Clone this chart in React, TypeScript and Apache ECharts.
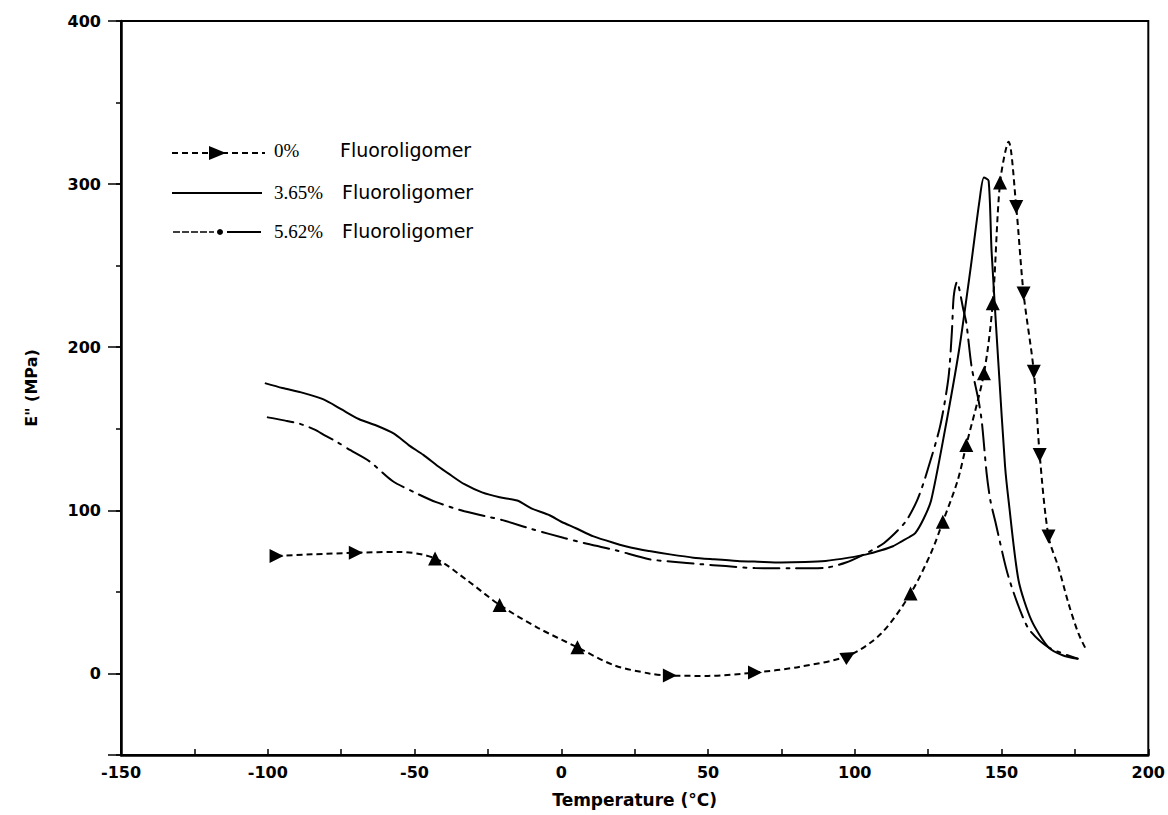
import React, { useEffect, useRef } from "react";
import * as echarts from "echarts";

// 0% Fluoroligomer (dashed curve)
const t0 = [-97, -85, -70, -55, -43, -32, -21, -8, 5.5, 18, 30, 37, 50, 66, 81, 98, 109, 119, 126, 130, 135, 138, 144, 147, 149.5, 152.4, 155, 157.5, 161, 163, 166, 169.4, 172.8, 176.2, 179];
const v0 = [72, 73, 74, 74.5, 70.5, 57, 42, 28, 16, 5, 0, -1.3, -1.5, 0.6, 4, 11, 24.5, 49, 74, 93, 118, 140, 184, 227, 301, 326, 286, 233, 185, 134, 84, 65, 43, 24.5, 14];
// markers on the 0% curve
const m0T = [-97, -70, -43, -21, 5.5, 37, 66, 98, 119, 130, 138, 144, 147, 149.5, 155, 157.5, 161, 163, 166];
const m0V = [72, 74, 70.5, 42, 16, -1.3, 0.6, 11, 49, 93, 140, 184, 227, 301, 286, 233, 185, 134, 84];
const m0Rot = [-90, -90, 0, 0, 0, -90, -90, -60, 0, 0, 0, 0, 0, 0, 180, 180, 180, 180, 180];

// 3.65% Fluoroligomer (solid)
const t1 = [-101, -95, -88, -81, -75, -69, -63, -57, -52, -47, -42, -38, -33, -27, -21, -15, -10, -4, 0, 5, 11, 18, 24, 30, 37, 45, 52, 60, 67, 75, 83, 90, 98, 104, 109, 113, 116, 118.5, 120.6, 123.5, 126, 130.5, 135.5, 139.5, 142.5, 144, 145.6, 146.6, 149, 151.2, 152.4, 155.8, 160.2, 166, 171, 176];
const v1 = [178, 175, 172, 168, 162, 156, 152, 147, 140, 134, 127, 122, 116, 111, 108, 106, 101, 97, 93, 89, 84, 80, 77, 75, 73, 71, 70, 69, 68.5, 68, 68.3, 69, 71, 73, 75.5, 78, 81, 83.5, 86, 95, 106, 147, 198, 249, 290, 304, 302, 259, 188, 127, 106, 57, 32.5, 16, 11, 9];

// 5.62% Fluoroligomer (dash-dot)
const t2 = [-100, -94, -89, -84, -80.6, -76, -72, -65.3, -57.5, -50, -42.6, -33, -26, -20, -10, 1, 10, 18.6, 30, 38, 47.5, 56, 66, 78, 90, 97, 103.6, 110, 117.2, 121.2, 124, 129, 131.9, 133.1, 133.7, 134.8, 137, 138, 139.8, 142.2, 143.3, 144.9, 146.2, 147.9, 152.4, 159, 166, 176];
const v2 = [157, 155, 153, 149.5, 146, 141.5, 137, 130, 118, 111, 105, 99.4, 96.5, 94, 88.5, 83, 79, 75.5, 70, 68.5, 67, 65.8, 64.6, 64.5, 64.8, 68, 73.4, 80, 92.8, 106, 120, 151, 181, 210, 231, 240, 223, 215, 188, 167, 154, 123, 106, 93, 59, 28, 16, 9];

const seriesNames = ["0%", "3.65%", "5.62%"];
const legendSuffix = "Fluoroligomer";
const xName = "Temperature (°C)";
const yName = 'E" (MPa)';

const zip = (a: number[], b: number[]) => a.map((x, i) => [x, b[i]]);

const axisFont = "DejaVu Sans";

export default function App() {
  const ref = useRef<HTMLDivElement>(null);
  useEffect(() => {
    if (!ref.current) return;
    const chart = echarts.init(ref.current, undefined, { renderer: "svg" });
    const legendRows = [153, 193, 232];
    const graphic: any[] = [
      { type: "line", shape: { x1: 172, y1: legendRows[0], x2: 265, y2: legendRows[0] }, style: { stroke: "#000", lineWidth: 2, lineDash: [6, 4] } },
      { type: "polygon", shape: { points: [[209, 146], [209, 160], [226, 153]] }, style: { fill: "#000" } },
      { type: "line", shape: { x1: 172, y1: legendRows[1], x2: 262, y2: legendRows[1] }, style: { stroke: "#000", lineWidth: 2 } },
      { type: "line", shape: { x1: 173, y1: legendRows[2], x2: 214, y2: legendRows[2] }, style: { stroke: "#000", lineWidth: 1.5, lineDash: [7, 2] } },
      { type: "circle", shape: { cx: 220, cy: legendRows[2], r: 3 }, style: { fill: "#000" } },
      { type: "line", shape: { x1: 227, y1: legendRows[2], x2: 261, y2: legendRows[2] }, style: { stroke: "#000", lineWidth: 2 } },
    ];
    seriesNames.forEach((n, i) => {
      const y = legendRows[i] - 2.6 + (i === 0 ? 0 : 2);
      graphic.push({ type: "text", x: 274, y, style: { text: n, fill: "#000", font: "19px 'Liberation Serif'", verticalAlign: "middle", align: "left" } });
      graphic.push({ type: "text", x: i === 0 ? 340 : 342, y, style: { text: legendSuffix, fill: "#000", font: "19px 'DejaVu Sans'", verticalAlign: "middle", align: "left" } });
    });

    chart.setOption({
      animation: false,
      backgroundColor: "#fff",
      grid: { left: 121, right: 18, top: 21, bottom: 60, show: true, borderColor: "#000", borderWidth: 2 },
      xAxis: {
        type: "value",
        min: -150,
        max: 200,
        interval: 25,
        name: xName,
        nameLocation: "middle",
        nameGap: 36,
        nameTextStyle: { fontFamily: axisFont, fontWeight: "bold", fontSize: 17, color: "#000" },
        axisLine: { onZero: false, lineStyle: { color: "#000", width: 2.5 } },
        axisTick: { inside: true, length: 6, lineStyle: { color: "#000", width: 1.5 } },
        axisLabel: {
          formatter: (v: number) => (v % 50 === 0 ? String(v) : ""),
          fontFamily: axisFont, fontWeight: "bold", fontSize: 16, color: "#000", margin: 9,
        },
        splitLine: { show: false },
      },
      yAxis: [
        {
          type: "value",
          min: -50,
          max: 400,
          splitNumber: 5,
          position: "left",
          name: yName,
          nameLocation: "middle",
          nameGap: 82,
          nameTextStyle: { fontFamily: axisFont, fontWeight: "bold", fontSize: 16, color: "#000" },
          axisLine: { show: true, onZero: false, lineStyle: { color: "#000", width: 2.5 } },
          axisTick: { show: true, inside: false, length: 13, lineStyle: { color: "#000", width: 1.5 } },
          axisLabel: {
            formatter: (v: number) => (v === -50 ? "" : String(v)),
            fontFamily: axisFont, fontWeight: "bold", fontSize: 16, color: "#000", margin: 20,
          },
          splitLine: { show: false },
        },
        {
          type: "value",
          min: -50,
          max: 400,
          interval: 50,
          position: "left",
          offset: 0,
          axisLine: { show: false, onZero: false },
          axisTick: { show: true, inside: false, length: 5, lineStyle: { color: "#000", width: 1.5 } },
          axisLabel: { show: false },
          splitLine: { show: false },
        },
      ],
      graphic,
      series: [
        {
          name: seriesNames[0], type: "line", data: zip(t0, v0), smooth: 0.3, showSymbol: false,
          lineStyle: { color: "#000", width: 2, type: [6, 4] },
        },
        {
          name: seriesNames[0] + " markers", type: "scatter", symbol: "triangle", symbolSize: 14,
          itemStyle: { color: "#000", opacity: 1 },
          data: m0T.map((t, i) => ({ value: [t, m0V[i]], symbolRotate: m0Rot[i] })),
        },
        {
          name: seriesNames[1], type: "line", data: zip(t1, v1), smooth: 0.25, showSymbol: false,
          lineStyle: { color: "#000", width: 2 },
        },
        {
          name: seriesNames[2], type: "line", data: zip(t2, v2), smooth: 0.25, showSymbol: false,
          lineStyle: { color: "#000", width: 2, type: [26, 7, 3, 7], cap: "round" },
        },
      ],
    });
    return () => chart.dispose();
  }, []);
  return <div ref={ref} style={{ width: 1168, height: 815, position: "absolute", left: 0, top: 0 }} />;
}
